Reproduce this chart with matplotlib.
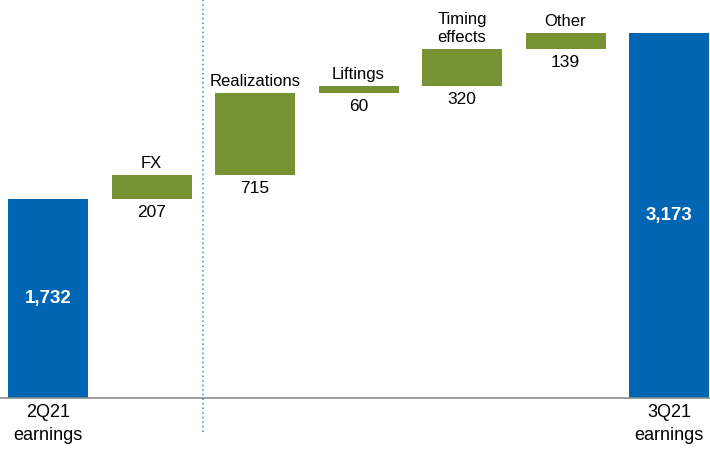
import numpy as np
import matplotlib.pyplot as plt

plt.rcParams['font.family'] = ['Liberation Sans', 'DejaVu Sans']

# waterfall data
categories = ['2Q21\nearnings', 'FX', 'Realizations', 'Liftings', 'Timing\neffects', 'Other', '3Q21\nearnings']
values = [1732, 207, 715, 60, 320, 139, 3173]
kinds = ['total', 'delta', 'delta', 'delta', 'delta', 'delta', 'total']

blue = '#0066B3'
green = '#779233'

fig = plt.figure(figsize=(7.1, 4.51), dpi=100)
ax = fig.add_axes([0, 0, 1, 1])

x = np.arange(len(categories))
running = 0
for i, (cat, v, k) in enumerate(zip(categories, values, kinds)):
    if k == 'total':
        ax.bar(i, v, width=0.773, color=blue)
        ax.text(i, v / 2, f'{v:,}', color='white', fontweight='bold', fontsize=13.5,
                ha='center', va='center')
        ax.text(i, -55, cat, ha='center', va='top', fontsize=13, linespacing=1.45)
        running = v
    else:
        ax.bar(i, v, bottom=running, width=0.773, color=green)
        ax.annotate(cat, (i, running + v), xytext=(0, 3), textcoords='offset points',
                    ha='center', va='bottom', fontsize=12, linespacing=1.3)
        ax.annotate(f'{v:,}', (i, running), xytext=(0, -4), textcoords='offset points',
                    ha='center', va='top', fontsize=12.5)
        running += v

ax.axhline(0, color='#8c8c8c', lw=1.2)
ax.plot([1.5, 1.5], [-296, 3600], color='#2E86D4', lw=1.1, ls=(0, (1, 2)))

ax.set_xlim(-0.464, 6.396)
ax.set_ylim(-461, 3464)
ax.axis('off')

fig.savefig('out.png', dpi=100)
